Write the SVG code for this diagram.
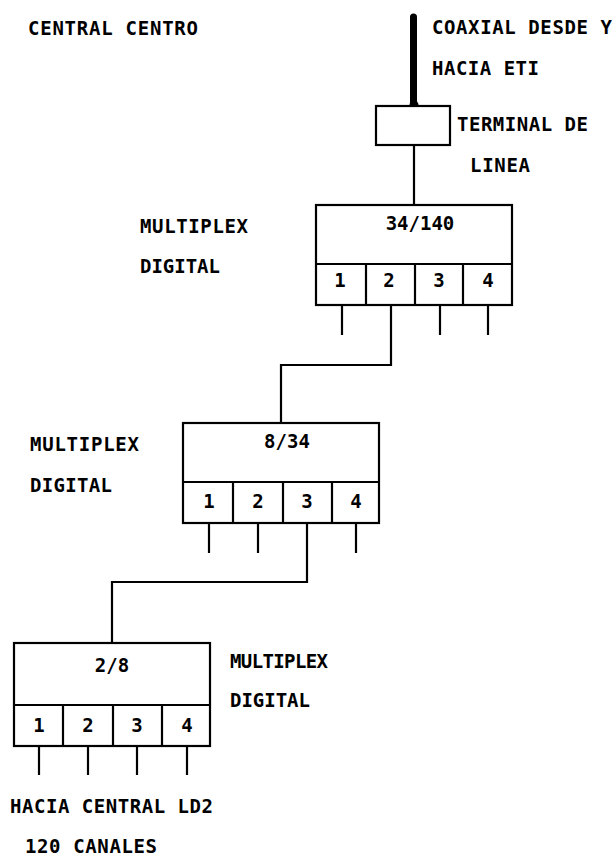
<svg xmlns="http://www.w3.org/2000/svg" width="616" height="858" viewBox="0 0 616 858">
<style>
text{font-family:"DejaVu Sans Mono","Liberation Mono",monospace;font-size:19px;font-weight:bold;fill:#000}
.n{text-anchor:middle}
.box{fill:#fff;stroke:#000;stroke-width:2.2}
.ln{fill:none;stroke:#000;stroke-width:2.2}
</style>
<rect width="616" height="858" fill="#fff"/>
<text x="28" y="35" textLength="170" lengthAdjust="spacing">CENTRAL CENTRO</text>
<text x="432" y="34" textLength="180" lengthAdjust="spacing">COAXIAL DESDE Y</text>
<text x="432" y="75" textLength="107" lengthAdjust="spacing">HACIA ETI</text>

<g id="coax">
<line x1="413.5" y1="17" x2="413.5" y2="104" stroke="#000" stroke-width="7" stroke-linecap="round"/>
<circle cx="414" cy="105" r="4.5" fill="#000"/>
</g>

<g id="terminal">
<rect class="box" x="376" y="106" width="74" height="39"/>
<text x="457" y="131" textLength="131" lengthAdjust="spacing">TERMINAL DE</text>
<text x="470" y="172" textLength="60" lengthAdjust="spacing">LINEA</text>
</g>

<g id="mux1">
<rect class="box" x="316" y="205" width="196" height="100"/>
<line class="ln" x1="316" y1="264" x2="512" y2="264"/>
<line class="ln" x1="366" y1="264" x2="366" y2="305"/>
<line class="ln" x1="415" y1="264" x2="415" y2="305"/>
<line class="ln" x1="463" y1="264" x2="463" y2="305"/>
<text class="n" x="420" y="230">34/140</text>
<text class="n" x="340" y="287">1</text>
<text class="n" x="389" y="287">2</text>
<text class="n" x="439" y="287">3</text>
<text class="n" x="488" y="287">4</text>
<text x="140" y="233" textLength="108" lengthAdjust="spacing">MULTIPLEX</text>
<text x="140" y="273" textLength="80" lengthAdjust="spacing">DIGITAL</text>
</g>

<g id="mux2">
<rect class="box" x="183" y="423" width="196" height="100"/>
<line class="ln" x1="183" y1="482" x2="379" y2="482"/>
<line class="ln" x1="233" y1="482" x2="233" y2="523"/>
<line class="ln" x1="283" y1="482" x2="283" y2="523"/>
<line class="ln" x1="332" y1="482" x2="332" y2="523"/>
<text class="n" x="287" y="448">8/34</text>
<text class="n" x="209" y="508">1</text>
<text class="n" x="258" y="508">2</text>
<text class="n" x="307" y="508">3</text>
<text class="n" x="356" y="508">4</text>
<text x="30" y="451" textLength="109" lengthAdjust="spacing">MULTIPLEX</text>
<text x="30" y="492" textLength="82" lengthAdjust="spacing">DIGITAL</text>
</g>

<g id="mux3">
<rect class="box" x="14" y="643" width="196" height="103"/>
<line class="ln" x1="14" y1="705" x2="210" y2="705"/>
<line class="ln" x1="63" y1="705" x2="63" y2="746"/>
<line class="ln" x1="113" y1="705" x2="113" y2="746"/>
<line class="ln" x1="162" y1="705" x2="162" y2="746"/>
<text class="n" x="112" y="672">2/8</text>
<text class="n" x="39" y="732">1</text>
<text class="n" x="88" y="732">2</text>
<text class="n" x="137" y="732">3</text>
<text class="n" x="187" y="732">4</text>
<text x="230" y="668" textLength="98" lengthAdjust="spacing">MULTIPLEX</text>
<text x="230" y="707" textLength="80" lengthAdjust="spacing">DIGITAL</text>
</g>

<g id="connectors">
<line class="ln" x1="414" y1="145" x2="414" y2="205"/>
<line class="ln" x1="342" y1="305" x2="342" y2="335"/>
<line class="ln" x1="440" y1="305" x2="440" y2="335"/>
<line class="ln" x1="488" y1="305" x2="488" y2="335"/>
<polyline class="ln" points="391,305 391,365 281,365 281,423"/>
<line class="ln" x1="209" y1="523" x2="209" y2="553"/>
<line class="ln" x1="258" y1="523" x2="258" y2="553"/>
<line class="ln" x1="356" y1="523" x2="356" y2="553"/>
<polyline class="ln" points="307,523 307,582 112,582 112,643"/>
<line class="ln" x1="39" y1="746" x2="39" y2="775"/>
<line class="ln" x1="88" y1="746" x2="88" y2="775"/>
<line class="ln" x1="137" y1="746" x2="137" y2="775"/>
<line class="ln" x1="187" y1="746" x2="187" y2="775"/>
</g>

<text x="10" y="813" textLength="203" lengthAdjust="spacing">HACIA CENTRAL LD2</text>
<text x="25" y="853" textLength="132" lengthAdjust="spacing">120 CANALES</text>
</svg>
